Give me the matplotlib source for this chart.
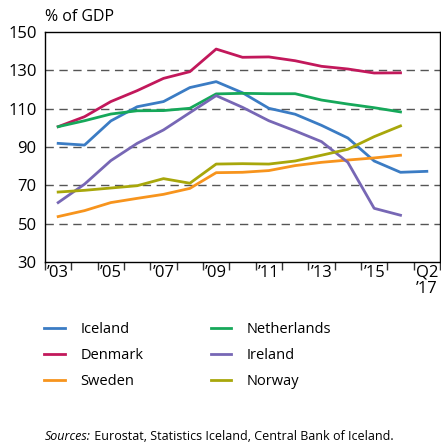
import matplotlib
matplotlib.use("Agg")
import matplotlib.pyplot as plt
import numpy as np

plt.rcParams['font.family'] = ['Open Sans', 'DejaVu Sans']

periods = ["2003", "2004", "2005", "2006", "2007", "2008", "2009", "2010",
           "2011", "2012", "2013", "2014", "2015", "2016", "Q2 2017"]
tick_labels = ["\u201903", "", "\u201905", "", "\u201907", "", "\u201909", "",
               "\u201911", "", "\u201913", "", "\u201915", "", "Q2\n\u201917"]

iceland = [91.9, 91.0, 103.6, 111.0, 113.7, 121.0, 124.1, 118.3, 110.2, 107.1, 101.3, 94.7, 82.7, 76.8, 77.3]
denmark = [100.6, 105.8, 113.7, 119.4, 125.8, 129.3, 141.1, 136.8, 137.0, 135.0, 132.1, 130.7, 128.6, 128.7]
sweden = [53.7, 56.8, 61.0, 63.2, 65.3, 68.4, 76.6, 76.8, 77.7, 80.3, 82.0, 83.2, 84.3, 85.7]
netherlands = [100.6, 103.7, 107.2, 108.9, 109.0, 110.2, 117.7, 118.0, 117.8, 117.8, 114.5, 112.4, 110.5, 108.3]
ireland = [61.0, 70.6, 82.9, 91.9, 98.9, 107.9, 116.8, 110.7, 103.7, 98.4, 92.8, 82.0, 58.0, 54.4]
norway = [66.5, 67.4, 68.6, 69.8, 73.5, 71.1, 81.1, 81.3, 81.1, 82.7, 85.7, 88.8, 95.4, 101.0]

series = [
    ("Iceland", iceland, "#3b7cc4"),
    ("Denmark", denmark, "#c2185b"),
    ("Sweden", sweden, "#f7941d"),
    ("Netherlands", netherlands, "#16a85a"),
    ("Ireland", ireland, "#7767b5"),
    ("Norway", norway, "#a8a70b"),
]

fig = plt.figure(figsize=(4.41, 4.47), dpi=100)
ax = fig.add_axes([45/441, 1-262/447, (440-45)/441, (262-32)/447])

lines = []
for name, vals, col in series:
    x = np.arange(len(vals)) + 0.5
    ln, = ax.plot(x, vals, color=col, lw=2.0, label=name, solid_joinstyle='round')
    lines.append(ln)

ax.set_xlim(0, len(periods))
ax.set_ylim(30, 150)
ax.set_yticks([30, 50, 70, 90, 110, 130, 150])
ax.tick_params(axis='y', length=0, labelsize=12, pad=6)
for yv in [50, 70, 90, 110, 130]:
    ax.axhline(yv, color="#555555", lw=1.0, dashes=(6, 4), zorder=0)

ax.set_xticks(np.arange(0, len(periods) + 1))
ax.set_xticklabels([])
ax.tick_params(axis='x', which='major', direction='out', length=6, width=1, color='#333333')
ax.set_xticks(np.arange(len(periods)) + 0.5, minor=True)
ax.set_xticklabels(tick_labels, minor=True, fontsize=12, va='top', linespacing=1.0)
ax.tick_params(axis='x', which='minor', length=0, pad=2)

for s in ax.spines.values():
    s.set_linewidth(1.0)
    s.set_color('black')

fig.text(45/441, 1-17/447, "% of GDP", fontsize=11.5, va='center', ha='left')

leg = fig.legend(handles=lines, ncol=2, loc='upper left',
                 bbox_to_anchor=(31/441, 1-309/447), frameon=False,
                 fontsize=10.5, handlelength=1.4, handletextpad=1.1,
                 columnspacing=4.6, labelspacing=0.75)

t1 = fig.text(45/441, 1-436/447, "Sources:", fontsize=9, style='italic', va='center', ha='left')
ax.annotate(" Eurostat, Statistics Iceland, Central Bank of Iceland.", xy=(1, 0.5),
            xycoords=t1, va='center', ha='left', fontsize=9, annotation_clip=False)

fig.savefig("out.png", dpi=100)
